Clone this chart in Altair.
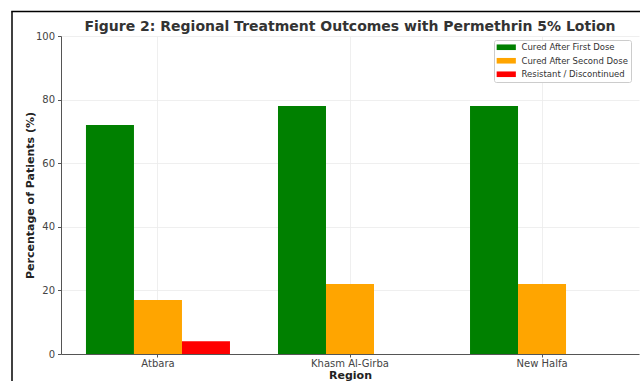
import altair as alt
import pandas as pd

regions = ["Atbara", "Khasm Al-Girba", "New Halfa"]
series = ["Cured After First Dose", "Cured After Second Dose", "Resistant / Discontinued"]
first_dose = [72, 78, 78]
second_dose = [17, 22, 22]
resistant = [4, 0, 0]
colors = ["#008000", "#FFA500", "#FF0000"]

rows = []
for i, r in enumerate(regions):
    for s, vals in zip(series, [first_dose, second_dose, resistant]):
        rows.append({"Region": r, "Outcome": s, "Value": vals[i]})
df = pd.DataFrame(rows)

FONT = "DejaVu Sans"

bars = alt.Chart(df).mark_bar(size=48).encode(
    x=alt.X("Region:N", sort=regions,
            scale=alt.Scale(paddingInner=0.25, paddingOuter=0.13),
            axis=alt.Axis(title="Region", labelAngle=0, bandPosition=0.5,
                          grid=True, gridColor="#ebebeb", gridWidth=0.8,
                          domainColor="#555555", tickColor="#555555", tickSize=3,
                          labelFontSize=10, labelColor="#444444", labelPadding=1,
                          titleFontSize=11, titleFontWeight="bold", titleColor="#222222",
                          titlePadding=1)),
    xOffset=alt.XOffset("Outcome:N", sort=series,
                        scale=alt.Scale(paddingInner=0, paddingOuter=0)),
    y=alt.Y("Value:Q", scale=alt.Scale(domain=[0, 100], nice=False),
            axis=alt.Axis(title="Percentage of Patients (%)", values=[0, 20, 40, 60, 80, 100],
                          grid=True, gridColor="#ebebeb", gridWidth=0.8,
                          domainColor="#555555", tickColor="#555555", tickSize=3.5,
                          labelFontSize=10, labelColor="#444444", labelPadding=3,
                          titleFontSize=11, titleFontWeight="bold", titleColor="#222222",
                          titlePadding=0)),
    color=alt.Color("Outcome:N", sort=series,
                    scale=alt.Scale(domain=series, range=colors),
                    legend=alt.Legend(title=None, orient="none", legendX=433, legendY=4,
                                      symbolType="M-2.4,-0.7H2.4V0.7H-2.4Z", symbolSize=64,
                                      symbolStrokeWidth=0, symbolOffset=5,
                                      labelFontSize=8.5, labelColor="#333333", labelOffset=11,
                                      rowPadding=4.5, padding=3,
                                      fillColor="white", strokeColor="#cccccc", cornerRadius=2)),
)

frame_df = pd.DataFrame({"k": [0]})
left_line = alt.Chart(frame_df).mark_rule(color="black", strokeWidth=1.5, clip=False).encode(
    x=alt.value(-49), y=alt.value(-24.5), y2=alt.value(345))
top_line = alt.Chart(frame_df).mark_rule(color="black", strokeWidth=1.5, clip=False).encode(
    x=alt.value(-49.75), x2=alt.value(579), y=alt.value(-24.5))

chart = alt.layer(bars, left_line, top_line).properties(
    width=578, height=318,
    title=alt.TitleParams("Figure 2: Regional Treatment Outcomes with Permethrin 5% Lotion",
                          fontSize=14, fontWeight="bold", color="#333333", font=FONT,
                          anchor="middle", offset=-23),
    autosize=alt.AutoSizeParams(type="none"),
    padding={"left": 61, "top": 36, "right": 1, "bottom": 27},
).configure(font=FONT).configure_view(stroke=None).configure_axis(
    labelFont=FONT, titleFont=FONT).configure_legend(labelFont=FONT)

chart.save("out.html", embed_options={"renderer": "svg", "actions": False})
